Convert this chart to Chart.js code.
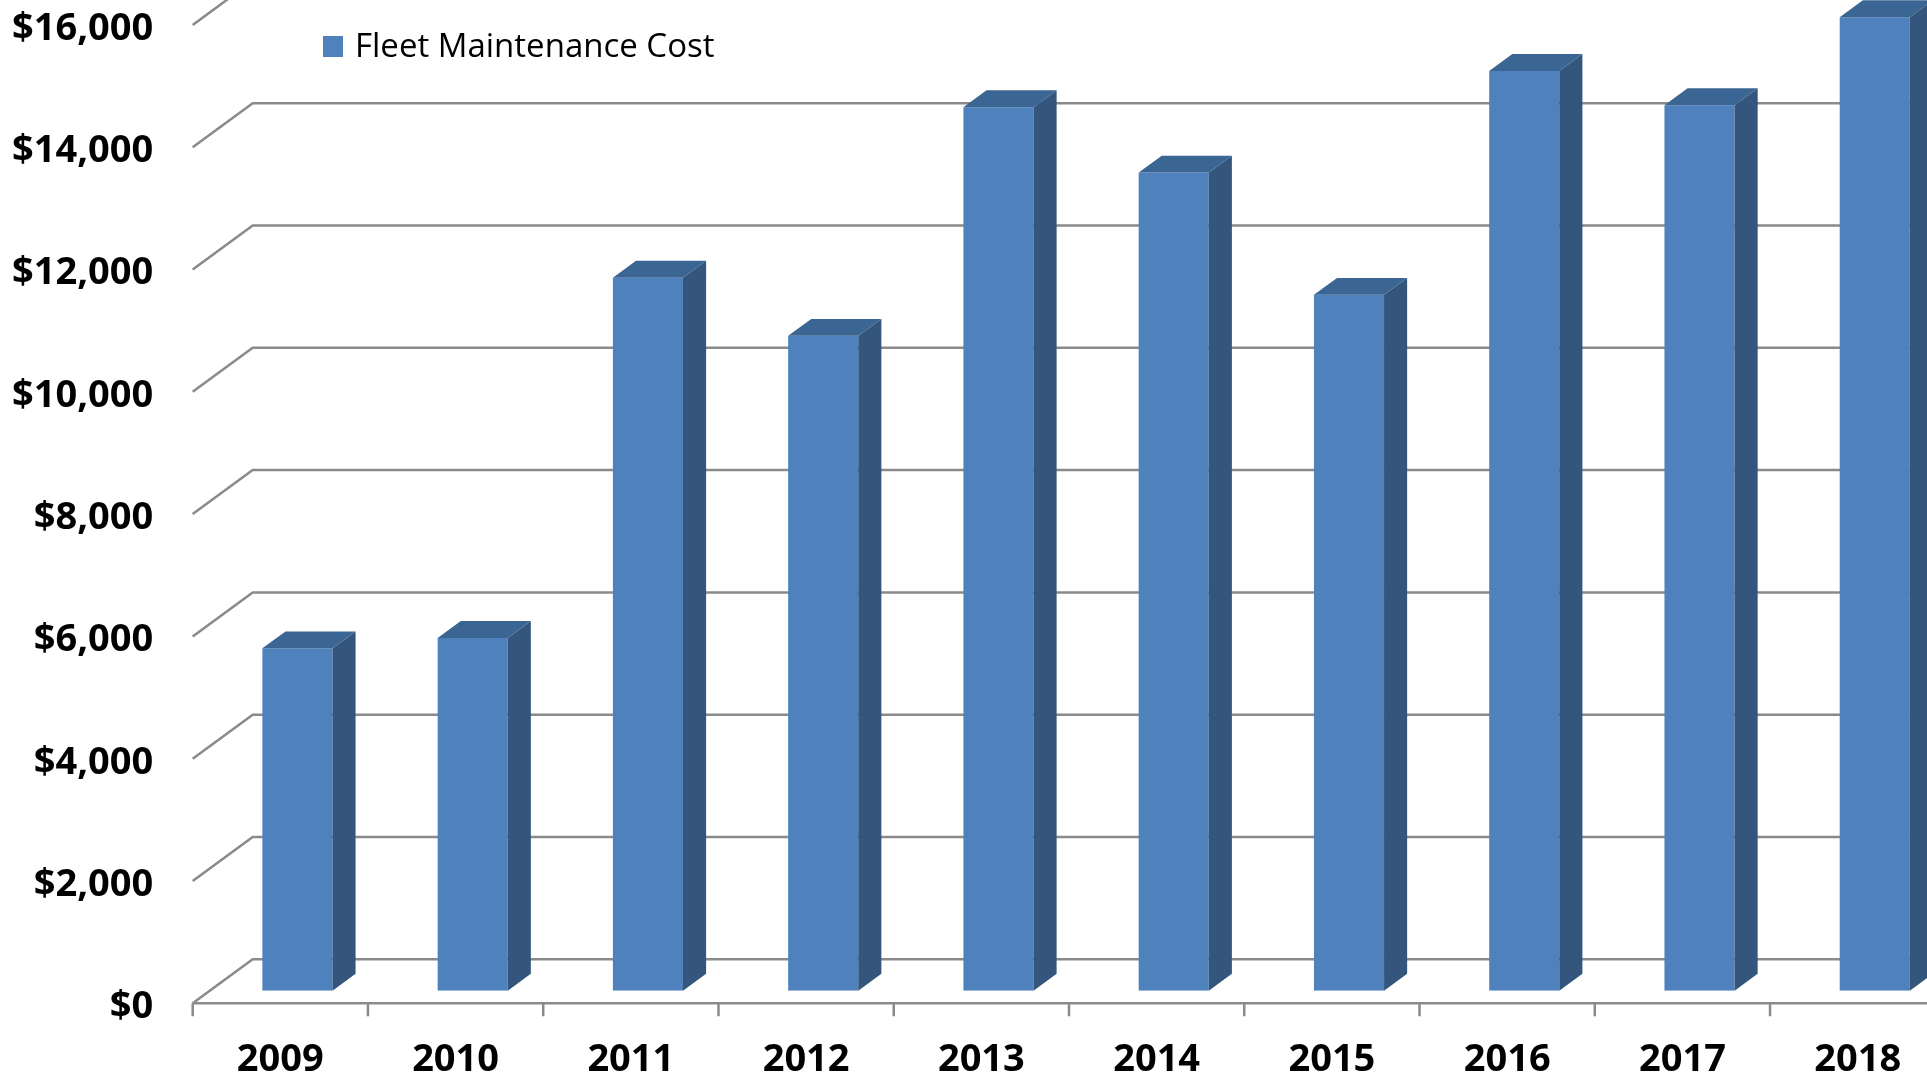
<!DOCTYPE html>
<html>
<head>
<meta charset="utf-8">
<title>Fleet Maintenance Cost</title>
<script src="https://cdn.jsdelivr.net/npm/chart.js@4.4.1/dist/chart.umd.min.js"></script>
<style>
  html, body { margin: 0; padding: 0; background: #fff; overflow: hidden; }
  canvas { display: block; }
</style>
</head>
<body>
<canvas id="costChart" width="1960" height="1082"></canvas>
<script>
const years = ['2009', '2010', '2011', '2012', '2013', '2014', '2015', '2016', '2017', '2018'];
const maintenanceCost = [5600, 5770, 11660, 10710, 14450, 13380, 11380, 15040, 14480, 15920];
const costMin = 0;
const costMax = 16000;
const costStep = 2000;

const FRONT = '#4F81BD';
const SIDE = '#34567C';
const TOP = '#3B6592';
const GRID = '#8A8A8A';

// oblique depth of the floor, and where the columns sit inside it
const depthX = 60, depthY = 44;
const colFront = 0.285, colDepth = 0.385;

const box3d = {
  id: 'box3d',
  beforeDatasetsDraw(chart) {
    const { ctx, chartArea: a, scales: { x, y } } = chart;
    ctx.save();
    ctx.strokeStyle = GRID;
    ctx.lineWidth = 2.5;
    // back wall gridlines with their diagonal run along the side wall
    y.ticks.forEach(t => {
      const py = y.getPixelForValue(t.value);
      ctx.beginPath();
      ctx.moveTo(a.left, py);
      ctx.lineTo(a.left + depthX, py - depthY);
      ctx.lineTo(a.right + depthX, py - depthY);
      ctx.stroke();
    });
    // front edge of the floor and category tick marks
    const step = x.getPixelForValue(1) - x.getPixelForValue(0);
    ctx.beginPath();
    ctx.moveTo(a.left, a.bottom);
    ctx.lineTo(a.right, a.bottom);
    for (let i = 0; i <= years.length; i++) {
      const px = x.getPixelForValue(0) - step / 2 + i * step;
      ctx.moveTo(px, a.bottom);
      ctx.lineTo(px, a.bottom + 13);
    }
    ctx.stroke();
    ctx.restore();

    // push the column fronts back into the floor
    ctx.save();
    ctx.translate(depthX * colFront, -depthY * colFront);
  },
  afterDatasetsDraw(chart) {
    const ctx = chart.ctx;
    ctx.restore();
    const fx = depthX * colFront, fy = depthY * colFront;
    const bx = depthX * colDepth, by = depthY * colDepth;
    chart.getDatasetMeta(0).data.forEach(bar => {
      const p = bar.getProps(['x', 'y', 'base', 'width'], true);
      const x0 = p.x - p.width / 2 + fx;
      const x1 = p.x + p.width / 2 + fx;
      const yt = p.y - fy;
      const yb = p.base - fy;
      ctx.fillStyle = SIDE;
      ctx.beginPath();
      ctx.moveTo(x1, yt);
      ctx.lineTo(x1 + bx, yt - by);
      ctx.lineTo(x1 + bx, yb - by);
      ctx.lineTo(x1, yb);
      ctx.closePath();
      ctx.fill();
      ctx.fillStyle = TOP;
      ctx.beginPath();
      ctx.moveTo(x0, yt);
      ctx.lineTo(x0 + bx, yt - by);
      ctx.lineTo(x1 + bx, yt - by);
      ctx.lineTo(x1, yt);
      ctx.closePath();
      ctx.fill();
    });
  },
  afterDraw(chart) {
    const ctx = chart.ctx;
    const ds = chart.data.datasets[0];
    ctx.save();
    ctx.fillStyle = ds.backgroundColor;
    ctx.fillRect(323, 36, 20, 21);
    ctx.fillStyle = '#000';
    ctx.font = '33px "Open Sans"';
    ctx.textBaseline = 'alphabetic';
    ctx.fillText(ds.label, 355, 57);
    ctx.restore();
  }
};

new Chart(document.getElementById('costChart'), {
  type: 'bar',
  data: {
    labels: years,
    datasets: [{
      label: 'Fleet Maintenance Cost',
      data: maintenanceCost,
      backgroundColor: FRONT,
      borderWidth: 0,
      barPercentage: 0.4,
      categoryPercentage: 1.0
    }]
  },
  options: {
    responsive: false,
    animation: false,
    layout: { padding: { top: 24.9, right: 14.7, bottom: 0, left: 0 } },
    plugins: {
      legend: { display: false },
      tooltip: { enabled: false }
    },
    scales: {
      x: {
        grid: { display: false, drawTicks: false },
        border: { display: false },
        ticks: {
          color: '#000',
          padding: 34,
          font: { family: 'Open Sans', size: 38, weight: 'bold' }
        },
        afterFit(scale) {
          scale.height = 78.7;
          scale.paddingLeft = 0;
          scale.paddingRight = 0;
        }
      },
      y: {
        min: costMin,
        max: costMax,
        grid: { display: false, drawTicks: false },
        border: { display: false },
        ticks: {
          stepSize: costStep,
          color: '#000',
          padding: 39.5,
          labelOffset: 4,
          font: { family: 'Open Sans', size: 38, weight: 'bold' },
          callback: v => '$' + v.toLocaleString('en-US')
        },
        afterFit(scale) {
          scale.width = 192.7;
          scale.paddingTop = 0;
          scale.paddingBottom = 0;
        }
      }
    }
  },
  plugins: [box3d]
});
</script>
</body>
</html>
